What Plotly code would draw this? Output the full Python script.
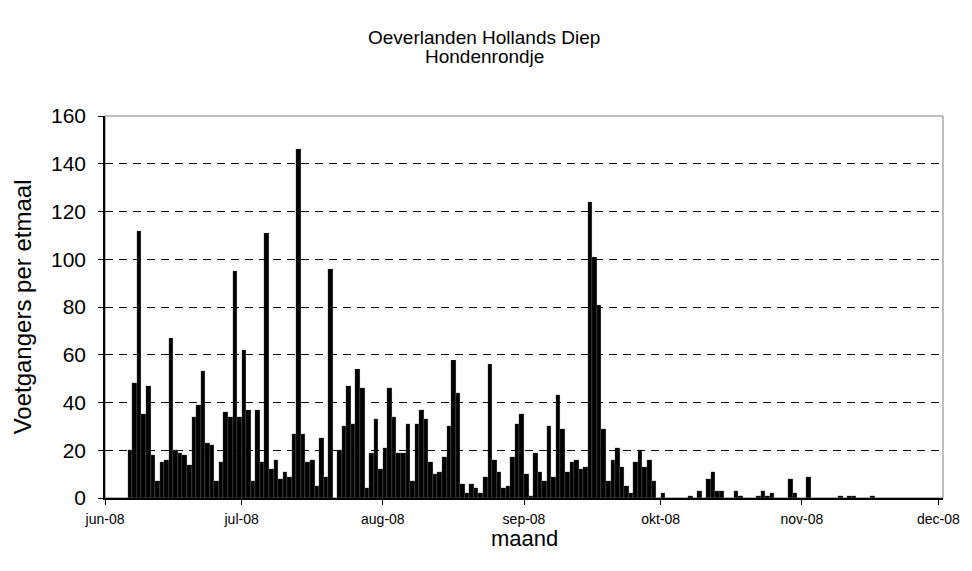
import pandas as pd
import plotly.graph_objects as go

# voetgangers per etmaal, per maand (1e t/m laatste dag)
juni = [0, 0, 0, 0, 0, 20, 48, 112, 35, 47, 18, 7, 15, 16, 67, 20, 19, 18, 14, 34,
        39, 53, 23, 22, 7, 15, 36, 34, 95, 34]
juli = [62, 37, 7, 37, 15, 111, 12, 16, 8, 11, 9, 27, 146, 27, 15, 16, 5, 25, 9, 96,
        0, 20, 30, 47, 31, 54, 46, 4, 19, 33, 12]
augustus = [21, 46, 34, 19, 19, 31, 7, 31, 37, 33, 15, 10, 11, 17, 30, 58, 44, 6, 2, 6,
            4, 2, 9, 56, 16, 11, 4, 5, 17, 31, 35]
september = [10, 1, 19, 11, 7, 30, 9, 43, 29, 11, 15, 16, 12, 13, 124, 101, 81, 29, 7, 16,
             21, 13, 5, 2, 15, 20, 13, 16, 7, 0]
oktober = [2, 0, 0, 0, 0, 0, 1, 0, 3, 0, 8, 11, 3, 3, 0, 0, 3, 1, 0, 0,
           0, 1, 3, 1, 2, 0, 0, 0, 8, 2, 0]
november = [0, 9, 0, 0, 0, 0, 0, 0, 1, 0, 1, 1, 0, 0, 0, 1, 0, 0, 0, 0,
            0, 0, 0, 0, 0, 0, 0, 0, 0, 0]

maand_ticks = ["2008-06-01", "2008-07-01", "2008-08-01", "2008-09-01",
               "2008-10-01", "2008-11-01", "2008-12-01"]
maand_labels = ["jun-08", "jul-08", "aug-08", "sep-08", "okt-08", "nov-08", "dec-08"]

waarden = juni + juli + augustus + september + oktober + november
dagen = pd.date_range("2008-06-01", periods=len(waarden), freq="D") + pd.Timedelta(hours=12)

font = "Liberation Sans, Arial, sans-serif"

fig = go.Figure()
fig.add_trace(go.Bar(
    x=dagen, y=waarden,
    marker=dict(color="black", line=dict(color="#9a9a9a", width=0.2)),
))

# body heeft 8px marge in de pagina, daarom iets kleiner
fig.update_layout(
    width=964, height=563,
    margin=dict(l=97, r=25, t=108, b=73),
    paper_bgcolor="white", plot_bgcolor="white",
    bargap=0, showlegend=False,
    font=dict(family=font, color="black"),
)

fig.update_xaxes(
    type="date", range=["2008-06-01", "2008-12-02"],
    tickvals=maand_ticks, ticktext=maand_labels,
    tickfont=dict(size=14), ticks="outside", ticklen=5, tickcolor="black",
    ticklabelstandoff=2,
    showline=True, linecolor="black", linewidth=1.5, showgrid=False,
)
fig.update_yaxes(
    range=[0, 160], dtick=20, tickfont=dict(size=21),
    ticks="outside", ticklen=5, tickcolor="black", ticklabelstandoff=8,
    showline=True, linecolor="black", linewidth=1.5,
    showgrid=True, gridcolor="black", gridwidth=1, griddash="8px,6px",
    zeroline=False,
)

# grijze kader rond het plotgebied
fig.add_shape(type="rect", xref="x domain", yref="y domain", x0=0, x1=1, y0=0, y1=1,
              line=dict(color="#808080", width=1), layer="below")

# titel gecentreerd op de hele grafiek, niet op het plotgebied
fig.add_annotation(text="Oeverlanden Hollands Diep", xref="paper", yref="paper",
                   x=0.4527, y=1.2068, showarrow=False, xanchor="center", yanchor="middle",
                   font=dict(size=19))
fig.add_annotation(text="Hondenrondje", xref="paper", yref="paper",
                   x=0.4527, y=1.1545, showarrow=False, xanchor="center", yanchor="middle",
                   font=dict(size=19))
fig.add_annotation(text="Voetgangers per etmaal", xref="paper", yref="paper",
                   x=-0.0986, y=0.5, textangle=-90, showarrow=False,
                   xanchor="center", yanchor="middle", font=dict(size=24))
fig.add_annotation(text="maand", xref="paper", yref="paper",
                   x=0.5, y=-0.105, showarrow=False,
                   xanchor="center", yanchor="middle", font=dict(size=22))

fig.write_html("out.html")
